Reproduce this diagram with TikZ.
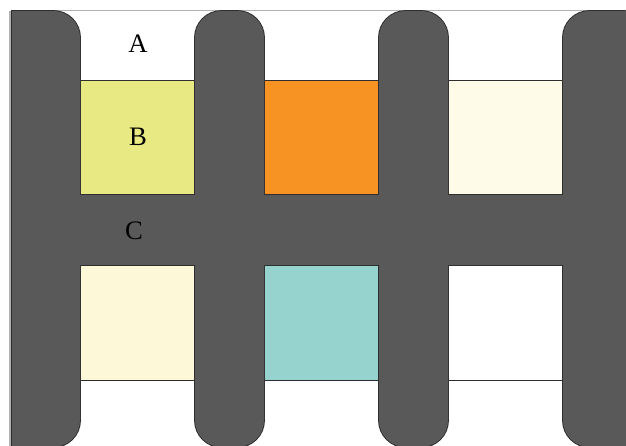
\documentclass[tikz,border=0pt]{standalone}
\usepackage{fontspec}
\setmainfont{Liberation Serif}
\definecolor{barg}{HTML}{595959}
\definecolor{bord}{HTML}{2E2E2E}
\definecolor{cB}{HTML}{E8E982}
\definecolor{cOr}{HTML}{F69322}
\definecolor{cCr}{HTML}{FEFBE8}
\definecolor{cCr2}{HTML}{FDF9D8}
\definecolor{cTe}{HTML}{96D3CF}
\begin{document}
\begin{tikzpicture}[x=0.75pt,y=-0.75pt,
  cell/.style={draw=bord,line width=0.6pt},
  passone/.style={draw=bord,line width=1.4pt},
  passtwo/.style={fill=barg},
  lbl/.style={font=\fontsize{20}{24}\selectfont,inner sep=0pt}]
\useasboundingbox (0,0) rectangle (626,446);
\begin{scope}
\clip (0,0) rectangle (626,446);
% frame
\draw[gray!60,line width=1pt] (10.5,10.5) -- (630,10.5);
\draw[gray!60,line width=1pt] (10,10.5) -- (10,450);
% cells
\fill[cB]  (80,80) rectangle (195,195);
\fill[cOr] (264,80) rectangle (379,195);
\fill[cCr] (448,80) rectangle (563,195);
\fill[cCr2] (80,265) rectangle (195,380);
\fill[cTe] (264,265) rectangle (379,380);
\fill[white] (448,265) rectangle (563,380);
\foreach \x in {80,264,448}{
  \draw[cell] (\x,80) rectangle ++(115,115);
  \draw[cell] (\x,265) rectangle ++(115,115);
}
\end{scope}
% gray comb: outline pass then fill pass
\begin{scope}
\clip (11,0) rectangle (626,446);
\foreach \opt in {passone,passtwo}{
  \path[\opt,rounded corners=20pt] (-60,11) rectangle (80,447);
  \path[\opt,rounded corners=20pt] (195,11) rectangle (264,447);
  \path[\opt,rounded corners=20pt] (379,11) rectangle (448,447);
  \path[\opt,rounded corners=20pt] (563,11) rectangle (650,447);
  \path[\opt] (-60,195) rectangle (640,265);
}
\end{scope}
\draw[bord,line width=0.7pt] (11.35,11) -- (11.35,446);
\node[lbl] (a) at (138,44) {A};
\node[lbl] (b) at (138,137) {B};
\node[lbl] (c) at (134,231) {C};
\end{tikzpicture}
\end{document}
